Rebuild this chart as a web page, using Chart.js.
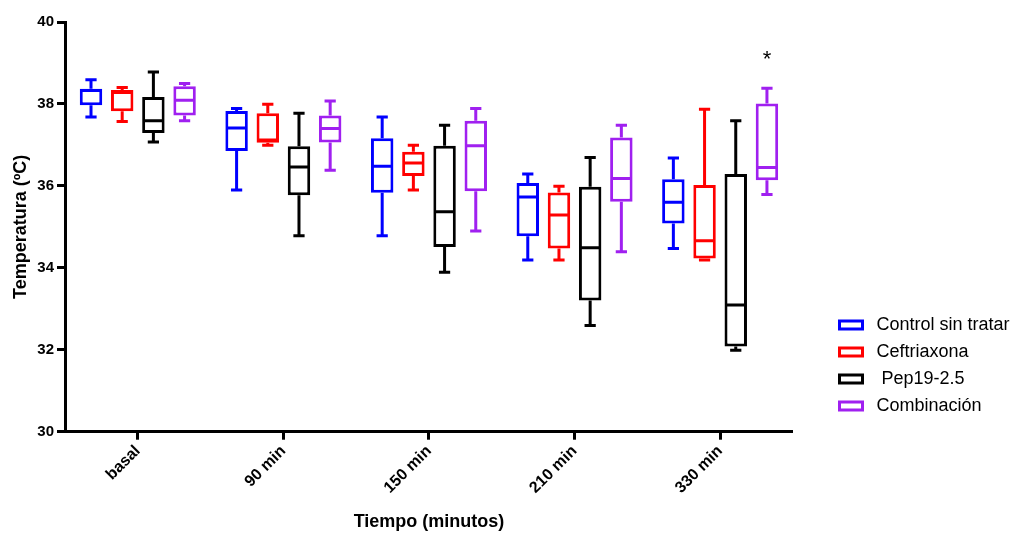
<!DOCTYPE html>
<html>
<head>
<meta charset="utf-8">
<script src="https://cdn.jsdelivr.net/npm/chart.js@4.4.0/dist/chart.umd.min.js"></script>
<style>
html,body{margin:0;padding:0;background:#fff;}
#wrap{width:1012px;height:533px;position:relative;}
</style>
</head>
<body>
<div id="wrap"><canvas id="c" width="1012" height="533"></canvas></div>
<script>
// ---- data ----
const categories = ['basal', '90 min', '150 min', '210 min', '330 min'];
const seriesNames = ['Control sin tratar', 'Ceftriaxona', ' Pep19-2.5', 'Combinación'];
const seriesColors = ['#0000ff', '#ff0000', '#000000', '#a020f0'];

const controlMin = [37.68, 35.90, 34.78, 34.19, 34.47];
const controlQ1  = [37.97, 36.85, 35.83, 34.77, 35.08];
const controlMed = [38.33, 37.41, 36.48, 35.73, 35.60];
const controlQ3  = [38.37, 37.83, 37.16, 36.07, 36.16];
const controlMax = [38.59, 37.89, 37.68, 36.29, 36.68];

const ceftMin = [37.57, 36.99, 35.90, 34.19, 34.19];
const ceftQ1  = [37.82, 37.05, 36.24, 34.47, 34.23];
const ceftMed = [38.28, 37.12, 36.56, 35.29, 34.66];
const ceftQ3  = [38.34, 37.77, 36.83, 35.84, 36.02];
const ceftMax = [38.40, 37.99, 36.99, 35.99, 37.87];

const pepMin = [37.07, 34.78, 33.89, 32.59, 31.99];
const pepQ1  = [37.29, 35.77, 34.51, 33.20, 32.08];
const pepMed = [37.59, 36.46, 35.37, 34.49, 33.09];
const pepQ3  = [38.17, 36.97, 36.98, 35.98, 36.29];
const pepMax = [38.78, 37.77, 37.48, 36.69, 37.59];

const combMin = [37.59, 36.38, 34.90, 34.39, 35.79];
const combQ1  = [37.72, 37.06, 35.87, 35.61, 36.14];
const combMed = [38.09, 37.40, 36.98, 36.18, 36.45];
const combQ3  = [38.43, 37.72, 37.59, 37.18, 38.01];
const combMax = [38.50, 38.07, 37.89, 37.48, 38.38];

const combSignificance = ['', '', '', '', '*'];

const yTickMin = 30, yTickMax = 40, yTickStep = 2;
const xTitle = 'Tiempo (minutos)';
const yTitle = 'Temperatura (ºC)';

// ---- build ----
const FONT = '"Liberation Sans", Arial, Helvetica, sans-serif';
const stats = [
  {min: controlMin, q1: controlQ1, med: controlMed, q3: controlQ3, max: controlMax, sig: null},
  {min: ceftMin, q1: ceftQ1, med: ceftMed, q3: ceftQ3, max: ceftMax, sig: null},
  {min: pepMin, q1: pepQ1, med: pepMed, q3: pepQ3, max: pepMax, sig: null},
  {min: combMin, q1: combQ1, med: combMed, q3: combQ3, max: combMax, sig: combSignificance}
];

const datasets = stats.map((s, k) => ({
  label: seriesNames[k],
  data: s.q1.map((v, i) => [v, s.q3[i]]),
  backgroundColor: '#ffffff',
  borderColor: seriesColors[k],
  borderWidth: 3,
  borderSkipped: false,
  categoryPercentage: 0.857,
  barPercentage: 0.72
}));

const boxPlotPlugin = {
  id: 'boxPlotParts',
  afterDatasetsDraw(chart) {
    const ctx = chart.ctx;
    const ys = chart.scales.y;
    ctx.save();
    stats.forEach((s, k) => {
      const meta = chart.getDatasetMeta(k);
      meta.data.forEach((bar, i) => {
        const x = bar.x, w = bar.width;
        const capHalf = w * 0.25;
        const pMin = ys.getPixelForValue(s.min[i]);
        const pQ1 = ys.getPixelForValue(s.q1[i]);
        const pMed = ys.getPixelForValue(s.med[i]);
        const pQ3 = ys.getPixelForValue(s.q3[i]);
        const pMax = ys.getPixelForValue(s.max[i]);
        ctx.strokeStyle = seriesColors[k];
        ctx.lineWidth = 3;
        ctx.lineCap = 'butt';
        ctx.beginPath();
        // whiskers
        ctx.moveTo(x, pQ3); ctx.lineTo(x, pMax);
        ctx.moveTo(x, pQ1); ctx.lineTo(x, pMin);
        // caps
        ctx.moveTo(x - capHalf, pMax); ctx.lineTo(x + capHalf, pMax);
        ctx.moveTo(x - capHalf, pMin); ctx.lineTo(x + capHalf, pMin);
        // median
        ctx.moveTo(x - w / 2 + 1.5, pMed); ctx.lineTo(x + w / 2 - 1.5, pMed);
        ctx.stroke();
        if (s.sig && s.sig[i]) {
          ctx.fillStyle = '#000';
          ctx.font = '22px ' + FONT;
          ctx.textAlign = 'center';
          ctx.textBaseline = 'alphabetic';
          ctx.fillText(s.sig[i], x, pMax - 22);
        }
      });
    });
    ctx.restore();
  }
};

const legendPlacer = {
  id: 'legendPlacer',
  afterLayout(chart) {
    const lg = chart.legend;
    if (!lg) return;
    const w = lg.width, h = lg.height;
    lg.left = 830.5; lg.right = lg.left + w;
    lg.top = 307; lg.bottom = lg.top + h;
  }
};

new Chart(document.getElementById('c'), {
  type: 'bar',
  data: { labels: categories, datasets: datasets },
  plugins: [boxPlotPlugin, legendPlacer],
  options: {
    responsive: false,
    animation: false,
    devicePixelRatio: 1,
    layout: { padding: { top: 22, right: 30, bottom: 0, left: 0 } },
    plugins: {
      tooltip: { enabled: false },
      legend: {
        position: 'right',
        align: 'start',
        labels: {
          boxWidth: 23,
          boxHeight: 8,
          padding: 9,
          color: '#000',
          font: { family: FONT, size: 18 },
          generateLabels(chart) {
            const items = Chart.defaults.plugins.legend.labels.generateLabels(chart);
            items.forEach(it => { it.text = ' ' + it.text; it.fillStyle = '#ffffff'; it.lineWidth = 3; });
            return items;
          }
        }
      }
    },
    scales: {
      x: {
        grid: { display: true, drawOnChartArea: false, drawTicks: true, offset: false, tickLength: 8, tickWidth: 3, tickColor: '#000', color: '#000' },
        border: { display: true, width: 3, color: '#000' },
        ticks: { color: '#000', font: { family: FONT, size: 16, weight: 'bold' }, minRotation: 45, maxRotation: 45, padding: 2, autoSkip: false },
        title: { display: true, text: xTitle, color: '#000', font: { family: FONT, size: 18, weight: 'bold' }, padding: { top: 0, bottom: 0 } },
        afterFit(s) { s.height = 101.3; }
      },
      y: {
        min: yTickMin, max: yTickMax,
        grid: { display: true, drawOnChartArea: false, drawTicks: true, tickLength: 8, tickWidth: 3, tickColor: '#000', color: '#000' },
        border: { display: true, width: 3, color: '#000' },
        ticks: { stepSize: yTickStep, color: '#000', font: { family: FONT, size: 15, weight: 'bold' }, padding: 3 },
        title: { display: true, text: yTitle, color: '#000', font: { family: FONT, size: 18, weight: 'bold' }, padding: { top: 10, bottom: 0 } },
        afterFit(s) { s.width = 65; }
      }
    }
  }
});
</script>
</body>
</html>
